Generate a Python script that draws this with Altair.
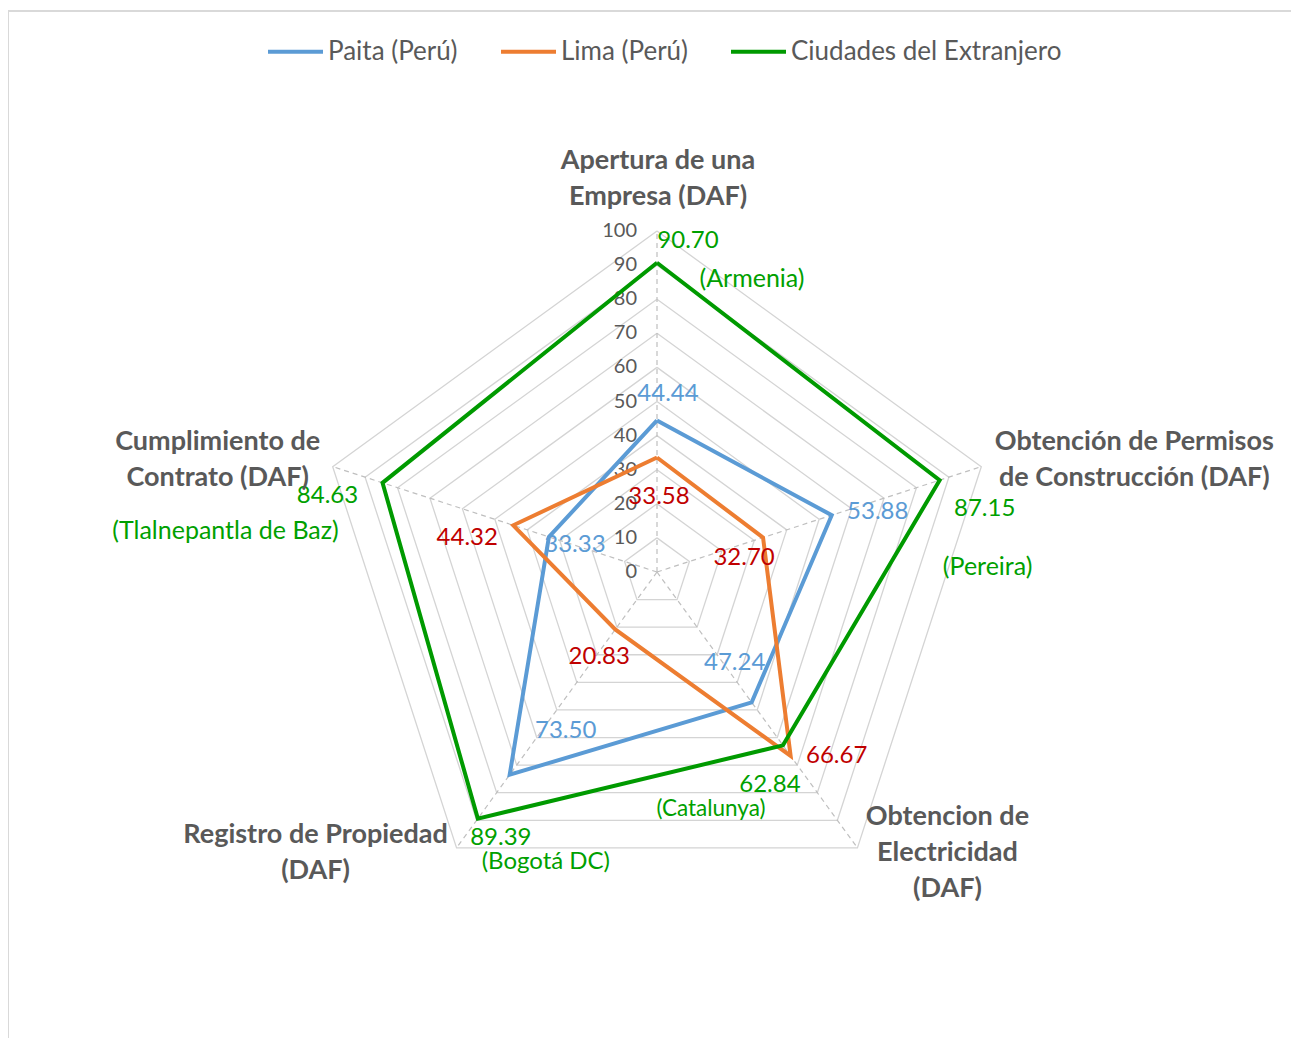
import altair as alt
import pandas as pd

# ---- data ----
axis_names = [
    "Apertura de una\nEmpresa (DAF)",
    "Obtención de Permisos\nde Construcción (DAF)",
    "Obtencion de\nElectricidad\n(DAF)",
    "Registro de Propiedad\n(DAF)",
    "Cumplimiento de\nContrato (DAF)",
]
series_names = ["Paita (Perú)", "Lima (Perú)", "Ciudades del Extranjero"]
paita = [44.44, 53.88, 47.24, 73.50, 33.33]
lima = [33.58, 32.70, 66.67, 20.83, 44.32]
extranjero = [90.70, 87.15, 62.84, 89.39, 84.63]
cities = ["(Armenia)", "(Pereira)", "(Catalunya)", "(Bogotá DC)", "(Tlalnepantla de Baz)"]
ticks = [0, 10, 20, 30, 40, 50, 60, 70, 80, 90, 100]

# ---- styles ----
line_colors = ["#5b9bd5", "#ed7d31", "#009a00"]
label_colors = ["#5b9bd5", "#c00000", "#00a000"]
FONT = "Lato"
W, H = 1283, 1030
PX = 3.41          # pixels per unit
CX, CY = 649, 564  # centre in plot pixels
xdom = [-CX / PX, (W - CX) / PX]
ydom = [-(H - CY) / PX, CY / PX]

value_offsets = [
    [(11, -26), (46, -3), (-17, -39), (56, -44), (26, 8)],
    [(2, 40), (-19, 20), (46, 0), (-16, 28), (-46, 13)],
    [(31, -22), (45, 29), (-13, 40), (23, 19), (-55, 13)],
]
city_offsets = [(95, 16), (48, 87), (-72, 64), (68, 43), (-157, 48)]
city_sizes = [25, 25, 22.5, 24, 25]
# offsets of the first text line of each axis title
axis_offsets = [(1, -70), (153, -25), (90, -31), (-141, -13), (-115, -25)]

xs = alt.Scale(domain=xdom, nice=False, zero=False)
ys = alt.Scale(domain=ydom, nice=False, zero=False)
X = alt.X("x:Q", scale=xs, axis=None)
Y = alt.Y("y:Q", scale=ys, axis=None)


def polar(chart):
    return chart.transform_calculate(
        ang="PI/2 - datum.idx * 2 * PI / 5"
    ).transform_calculate(
        x="datum.value * cos(datum.ang)", y="datum.value * sin(datum.ang)"
    )


# grid pentagons
grid_rows = [{"level": t, "idx": i, "value": t} for t in ticks for i in range(6)]
grid = polar(alt.Chart(pd.DataFrame(grid_rows))).mark_line(
    color="#d4d4d4", strokeWidth=1.3
).encode(x=X, y=Y, detail="level:N", order="idx:Q")

# spokes
spoke_rows = [{"idx": i} for i in range(5)]
spokes = alt.Chart(pd.DataFrame(spoke_rows)).transform_calculate(
    ang="PI/2 - datum.idx * 2 * PI / 5"
).transform_calculate(
    x="0", y="0", x2="100 * cos(datum.ang)", y2="100 * sin(datum.ang)"
).mark_rule(color="#bfbfbf", strokeDash=[5, 4], strokeWidth=1.2).encode(
    x=X, y=Y, x2="x2:Q", y2="y2:Q"
)

# tick labels
ticks_df = pd.DataFrame({"idx": [0] * len(ticks), "value": ticks, "label": [str(t) for t in ticks]})
tick_text = polar(alt.Chart(ticks_df)).mark_text(
    align="right", baseline="middle", dx=-20, fontSize=20, font=FONT, color="#595959"
).encode(x=X, y=Y, text="label:N")

# series lines
rows = []
for s, vals in zip(series_names, [paita, lima, extranjero]):
    for i in range(6):
        rows.append({"series": s, "idx": i, "value": vals[i % 5]})
lines = polar(alt.Chart(pd.DataFrame(rows))).mark_line(strokeWidth=4).encode(
    x=X,
    y=Y,
    order="idx:Q",
    color=alt.Color(
        "series:N",
        scale=alt.Scale(domain=series_names, range=line_colors),
        sort=series_names,
        legend=alt.Legend(
            title=None,
            orient="none",
            legendX=258,
            legendY=14,
            direction="horizontal",
            symbolType="stroke",
            symbolSize=3025,
            symbolStrokeWidth=4,
            labelFontSize=26,
            labelFont=FONT,
            labelColor="#595959",
            labelLimit=400,
            labelOffset=3,
            columnPadding=35,
        ),
    ),
)

layers = [grid, spokes, tick_text, lines]

# value labels
for s_i, vals in enumerate([paita, lima, extranjero]):
    for i, v in enumerate(vals):
        dx, dy = value_offsets[s_i][i]
        df = pd.DataFrame({"idx": [i], "value": [v], "label": [f"{v:.2f}"]})
        layers.append(
            polar(alt.Chart(df)).mark_text(
                dx=dx, dy=dy, fontSize=24, font=FONT, color=label_colors[s_i],
                align="center", baseline="middle",
            ).encode(x=X, y=Y, text="label:N")
        )

# city labels
for i, c in enumerate(cities):
    dx, dy = city_offsets[i]
    df = pd.DataFrame({"idx": [i], "value": [extranjero[i]], "label": [c]})
    layers.append(
        polar(alt.Chart(df)).mark_text(
            dx=dx, dy=dy, fontSize=city_sizes[i], font=FONT, color=label_colors[2],
            align="center", baseline="middle",
        ).encode(x=X, y=Y, text="label:N")
    )

# axis category labels
for i, name in enumerate(axis_names):
    dx, dy = axis_offsets[i]
    df = pd.DataFrame({"idx": [i], "value": [100], "label": [name]})
    layers.append(
        polar(alt.Chart(df)).mark_text(
            dx=dx, dy=dy, fontSize=27, font=FONT, fontWeight="bold", color="#595959",
            align="center", baseline="middle", lineBreak="\n", lineHeight=36,
        ).encode(x=X, y=Y, text="label:N")
    )

# chart frame (top and left edges)
frame_top = alt.Chart(pd.DataFrame({"a": [0]})).mark_rule(color="#d9d9d9", strokeWidth=2).encode(
    x=alt.value(0), x2=alt.value(W), y=alt.value(3)
)
frame_left = alt.Chart(pd.DataFrame({"a": [0]})).mark_rule(color="#d9d9d9", strokeWidth=2).encode(
    x=alt.value(0), y=alt.value(3), y2=alt.value(H)
)
layers += [frame_top, frame_left]

chart = alt.layer(*layers).properties(
    width=W, height=H, autosize=alt.AutoSizeParams(type="none"), padding=0
).configure_view(stroke=None)

chart.save("out.html", embed_options={"renderer": "svg", "actions": False})
